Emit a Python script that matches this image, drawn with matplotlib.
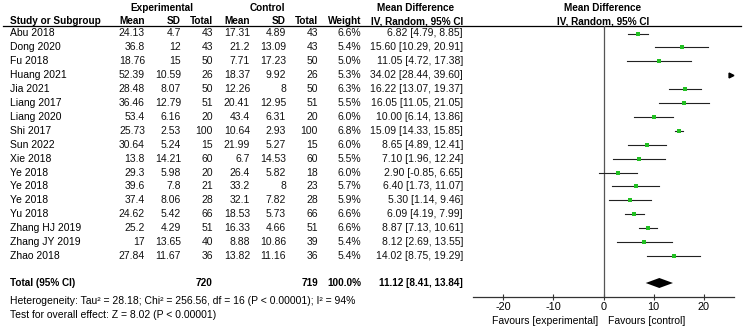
import matplotlib
matplotlib.use("Agg")
import matplotlib.pyplot as plt

plt.rcParams['font.family'] = ['Liberation Sans', 'DejaVu Sans']

studies = ["Abu 2018", "Dong 2020", "Fu 2018", "Huang 2021", "Jia 2021", "Liang 2017",
           "Liang 2020", "Shi 2017", "Sun 2022", "Xie 2018", "Ye 2018", "Ye 2018",
           "Ye 2018", "Yu 2018", "Zhang HJ 2019", "Zhang JY 2019", "Zhao 2018"]
exp_mean = ["24.13", "36.8", "18.76", "52.39", "28.48", "36.46", "53.4", "25.73", "30.64",
            "13.8", "29.3", "39.6", "37.4", "24.62", "25.2", "17", "27.84"]
exp_sd = ["4.7", "12", "15", "10.59", "8.07", "12.79", "6.16", "2.53", "5.24", "14.21",
          "5.98", "7.8", "8.06", "5.42", "4.29", "13.65", "11.67"]
exp_n = [43, 43, 50, 26, 50, 51, 20, 100, 15, 60, 20, 21, 28, 66, 51, 40, 36]
ctl_mean = ["17.31", "21.2", "7.71", "18.37", "12.26", "20.41", "43.4", "10.64", "21.99",
            "6.7", "26.4", "33.2", "32.1", "18.53", "16.33", "8.88", "13.82"]
ctl_sd = ["4.89", "13.09", "17.23", "9.92", "8", "12.95", "6.31", "2.93", "5.27", "14.53",
          "5.82", "8", "7.82", "5.73", "4.66", "10.86", "11.16"]
ctl_n = [43, 43, 50, 26, 50, 51, 20, 100, 15, 60, 18, 23, 28, 66, 51, 39, 36]
weight = [6.6, 5.4, 5.0, 5.3, 6.3, 5.5, 6.0, 6.8, 6.0, 5.5, 6.0, 5.7, 5.9, 6.6, 6.6, 5.4, 5.4]
md = [6.82, 15.60, 11.05, 34.02, 16.22, 16.05, 10.00, 15.09, 8.65, 7.10, 2.90, 6.40, 5.30,
      6.09, 8.87, 8.12, 14.02]
lo = [4.79, 10.29, 4.72, 28.44, 13.07, 11.05, 6.14, 14.33, 4.89, 1.96, -0.85, 1.73, 1.14,
      4.19, 7.13, 2.69, 8.75]
hi = [8.85, 20.91, 17.38, 39.60, 19.37, 21.05, 13.86, 15.85, 12.41, 12.24, 6.65, 11.07, 9.46,
      7.99, 10.61, 13.55, 19.29]
total_exp, total_ctl = 720, 719
pooled = (11.12, 8.41, 13.84)
xticks = [-20, -10, 0, 10, 20]

fs = 7.5    # regular text
fb = 7.2    # bold headers
fig = plt.figure(figsize=(7.45, 3.29), dpi=100)
bg = fig.add_axes([0, 0, 1, 1])
bg.set_xlim(0, 745)
bg.set_ylim(329, 0)
bg.axis('off')

# headers
bg.text(162, 8, "Experimental", ha='center', va='center', fontsize=fb, fontweight='bold')
bg.text(267, 8, "Control", ha='center', va='center', fontsize=fb, fontweight='bold')
bg.text(416, 8, "Mean Difference", ha='center', va='center', fontsize=fb, fontweight='bold')
bg.text(603, 8, "Mean Difference", ha='center', va='center', fontsize=fb, fontweight='bold')
bg.text(10, 21.5, "Study or Subgroup", ha='left', va='center', fontsize=fb, fontweight='bold')
cols = [145, 181, 213, 250, 286, 318, 361, 463]
heads = ["Mean", "SD", "Total", "Mean", "SD", "Total", "Weight", "IV, Random, 95% CI"]
for x, h in zip(cols, heads):
    bg.text(x, 21.5, h, ha='right', va='center', fontsize=fb, fontweight='bold')
bg.text(603, 21.5, "IV, Random, 95% CI", ha='center', va='center', fontsize=fb, fontweight='bold')
bg.plot([3, 741], [26, 26], color='black', lw=0.9)

row_y = [33.5 + 13.9 * i for i in range(len(studies))]
for i, y in enumerate(row_y):
    bg.text(10, y, studies[i], ha='left', va='center', fontsize=fs)
    vals = [exp_mean[i], exp_sd[i], str(exp_n[i]), ctl_mean[i], ctl_sd[i], str(ctl_n[i]),
            f"{weight[i]:.1f}%", f"{md[i]:.2f} [{lo[i]:.2f}, {hi[i]:.2f}]"]
    for x, v in zip(cols, vals):
        bg.text(x, y, v, ha='right', va='center', fontsize=fs, color='#111')

ty = 283
bg.text(10, ty, "Total (95% CI)", ha='left', va='center', fontsize=fb, fontweight='bold')
bg.text(213, ty, str(total_exp), ha='right', va='center', fontsize=fb, fontweight='bold')
bg.text(318, ty, str(total_ctl), ha='right', va='center', fontsize=fb, fontweight='bold')
bg.text(361, ty, "100.0%", ha='right', va='center', fontsize=fb, fontweight='bold')
bg.text(463, ty, f"{pooled[0]:.2f} [{pooled[1]:.2f}, {pooled[2]:.2f}]", ha='right',
        va='center', fontsize=fb, fontweight='bold')
bg.text(10, 301, "Heterogeneity: Tau² = 28.18; Chi² = 256.56, df = 16 (P < 0.00001); I² = 94%",
        ha='left', va='center', fontsize=fs)
bg.text(10, 315, "Test for overall effect: Z = 8.02 (P < 0.00001)",
        ha='left', va='center', fontsize=fs)
bg.text(598, 321, "Favours [experimental]", ha='right', va='center', fontsize=fs)
bg.text(608, 321, "Favours [control]", ha='left', va='center', fontsize=fs)

# forest panel
x0, x1, ytop, ybot = 473, 734, 26, 297
ax = fig.add_axes([x0 / 745, (329 - ybot) / 329, (x1 - x0) / 745, (ybot - ytop) / 329])
ax.set_xlim(-26, 26)
ax.set_ylim(ybot, ytop)
ax.patch.set_alpha(0)
for s in ['top', 'left', 'right']:
    ax.spines[s].set_visible(False)
ax.spines['bottom'].set_linewidth(0.9)
ax.spines['bottom'].set_color('#333')
ax.set_yticks([])
ax.set_xticks(xticks)
ax.set_xticklabels([str(t) for t in xticks], fontsize=fs + 0.3)
ax.tick_params(axis='x', direction='inout', length=5, width=0.8, pad=1, color='#333')
ax.axvline(0, color='#555', lw=0.9)

xmax = 26
for i, y in enumerate(row_y):
    if lo[i] > xmax:
        ax.plot(xmax - 0.5, y, marker='>', color='black', markersize=3.5, clip_on=False)
        continue
    ax.plot([lo[i], min(hi[i], xmax)], [y, y], color='#222', lw=0.8)
    ax.plot(md[i], y, marker='s', color='#22c022', markersize=2.6, mew=0, lw=0)

m, l, h = pooled
ax.fill([l, m, h, m], [ty, ty - 5, ty, ty + 5], color='black', lw=0)

fig.savefig("out.png", dpi=100)
